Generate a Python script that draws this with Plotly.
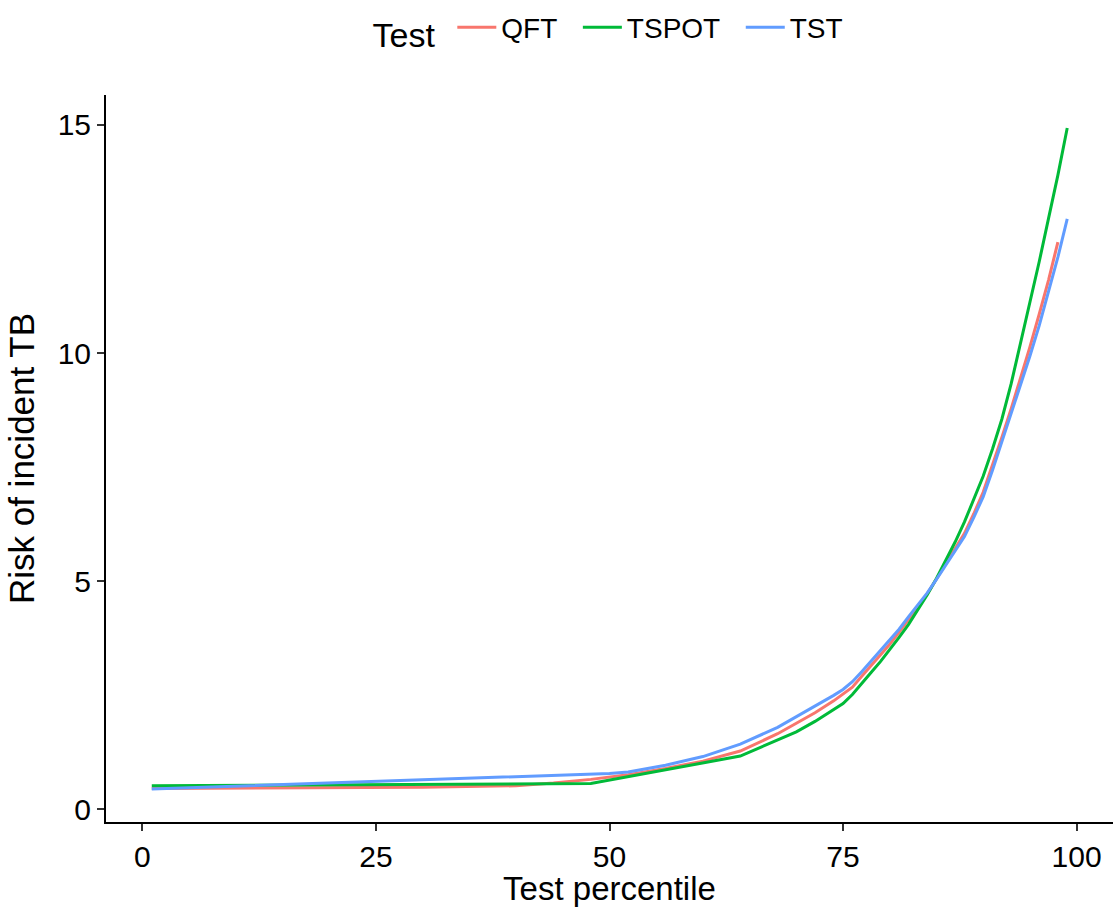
import plotly.graph_objects as go

# ---- data ----
series_names = ["QFT", "TSPOT", "TST"]
legend_labels = ["QFT\u00a0\u00a0", "TSPOT\u00a0\u00a0", "TST"]
series_colors = ["#F8766D", "#00BA38", "#619CFF"]

x_qft = [1, 10, 20, 30, 40, 44, 48, 52, 56, 60, 64, 68, 70, 72, 74, 76, 77, 78, 79, 80, 81, 82, 83, 84,
         85, 86, 87, 88, 89, 90, 91, 92, 93, 94, 95, 96, 97, 98]
y_qft = [0.46, 0.47, 0.48, 0.49, 0.52, 0.58, 0.66, 0.76, 0.90, 1.06, 1.28, 1.66, 1.89, 2.12, 2.38, 2.68,
         2.92, 3.15, 3.38, 3.62, 3.88, 4.16, 4.45, 4.72, 5.05, 5.40, 5.72, 6.05, 6.48, 6.95, 7.53, 8.15,
         8.78, 9.45, 10.13, 10.85, 11.60, 12.43]

x_tspot = [1, 10, 20, 30, 40, 48, 64, 70, 72, 74, 75, 76, 77, 78, 79, 80, 81, 82, 83, 84, 85, 86, 87, 88,
           89, 90, 91, 92, 93, 94, 95, 96, 97, 98, 99]
y_tspot = [0.52, 0.53, 0.54, 0.55, 0.56, 0.57, 1.17, 1.70, 1.93, 2.19, 2.32, 2.52, 2.75, 3.00, 3.24, 3.50,
           3.77, 4.05, 4.37, 4.70, 5.06, 5.45, 5.86, 6.30, 6.78, 7.30, 7.90, 8.55, 9.33, 10.20, 11.10,
           12.00, 12.95, 13.90, 14.93]

x_tst = [1, 10, 20, 30, 40, 50, 52, 56, 60, 64, 68, 70, 72, 74, 75, 76, 77, 78, 79, 80, 81, 82, 83, 84,
         85, 86, 87, 88, 89, 90, 91, 92, 93, 94, 95, 96, 97, 98, 99]
y_tst = [0.45, 0.51, 0.58, 0.65, 0.72, 0.79, 0.82, 0.97, 1.16, 1.43, 1.80, 2.03, 2.26, 2.50, 2.63, 2.80,
         3.02, 3.25, 3.47, 3.70, 3.95, 4.22, 4.48, 4.74, 5.04, 5.35, 5.65, 5.98, 6.40, 6.85, 7.43, 8.05,
         8.65, 9.30, 9.93, 10.60, 11.35, 12.10, 12.94]

x_ticks = [0, 25, 50, 75, 100]
y_ticks = [0, 5, 10, 15]

xs = [x_qft, x_tspot, x_tst]
ys = [y_qft, y_tspot, y_tst]

FONT = "Liberation Sans, Arial, sans-serif"

fig = go.Figure()
for name, lab, col, xv, yv in zip(series_names, legend_labels, series_colors, xs, ys):
    fig.add_trace(go.Scatter(x=xv, y=yv, mode="lines", name=lab,
                             hovertemplate=name + "<br>%{x}: %{y}<extra></extra>",
                             line=dict(color=col, width=3)))

# ggplot-like 5% expansion of the data range
xmin = min(min(v) for v in xs); xmax = max(max(v) for v in xs)
ymin = min(min(v) for v in ys); ymax = max(max(v) for v in ys)
xpad = 0.05 * (xmax - xmin); ypad = 0.05 * (ymax - ymin)

axis_common = dict(showgrid=False, zeroline=False, showline=True, linecolor="#000000",
                   linewidth=2, ticks="outside", ticklen=7, tickwidth=2, tickcolor="#333333",
                   tickfont=dict(family=FONT, size=30, color="#000000"))

fig.update_xaxes(range=[xmin - xpad, xmax + xpad], tickvals=x_ticks,
                 ticktext=[str(t) for t in x_ticks],
                 title=dict(text="Test percentile", font=dict(family=FONT, size=33, color="#000000"),
                            standoff=7),
                 **axis_common)
fig.update_yaxes(range=[ymin - ypad, ymax + ypad], tickvals=y_ticks,
                 ticktext=[str(t) for t in y_ticks],
                 title=dict(text="Risk of incident TB", font=dict(family=FONT, size=35, color="#000000"),
                            standoff=12),
                 **axis_common)

fig.update_layout(
    width=1115, height=907,
    paper_bgcolor="white", plot_bgcolor="white",
    margin=dict(l=106, r=2, t=95, b=85, autoexpand=False),
    font=dict(family=FONT, color="#000000"),
    legend=dict(orientation="h", x=0.5, xanchor="center", y=1 - 30 / 907, yanchor="middle",
                yref="container",
                title=dict(text="Test\u00a0", side="left", font=dict(family=FONT, size=34, color="#000000")),
                font=dict(family=FONT, size=28, color="#000000"),
                itemwidth=39, bgcolor="rgba(0,0,0,0)"),
    showlegend=True,
)

fig.write_html("out.html", config={"displayModeBar": False},
               post_script="document.body.style.margin='0';document.body.style.overflow='hidden';")
